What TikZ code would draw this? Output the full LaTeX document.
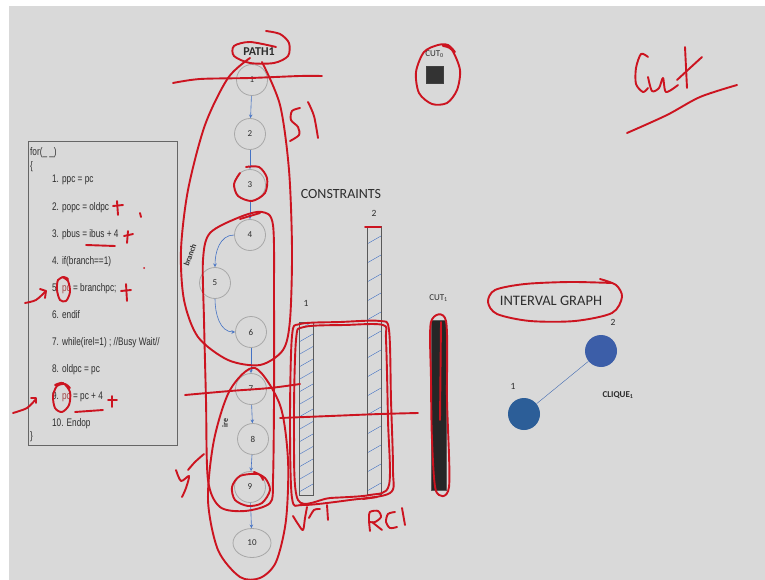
\documentclass[tikz,border=0pt]{standalone}
\usepackage{fontspec}
\setmainfont{Carlito}
\newfontfamily\codefont{Liberation Sans}
\usepackage{tikz}
\usetikzlibrary{shapes.geometric, arrows, positioning}

\definecolor{slide}{RGB}{217,217,217}
\definecolor{inkred}{RGB}{204,20,32}
\definecolor{flow}{RGB}{68,114,196}
\definecolor{ring}{RGB}{168,168,168}
\definecolor{txt}{RGB}{45,45,45}
\definecolor{pcred}{RGB}{160,70,70}
\definecolor{vtxa}{RGB}{44,94,152}
\definecolor{vtxb}{RGB}{60,94,168}

\tikzstyle{pnode} = [ellipse, minimum width=31pt, minimum height=31pt, inner sep=0pt, draw=ring, thick, text=txt, font=\fontsize{9}{10}\selectfont]
\tikzstyle{arrow2} = [flow, semithick, ->, >=stealth]
\tikzstyle{codeline} = [anchor=west, inner sep=0pt, text=txt, font=\codefont\fontsize{11}{12}\selectfont, xscale=0.75, transform shape]
\tikzstyle{barbox} = [rectangle, draw=black!65, thick, fill=slide, minimum width=14pt, inner sep=0pt]
\tikzstyle{vertex} = [circle, minimum size=32pt, inner sep=0pt]
\tikzstyle{title2} = [text=txt, font=\fontsize{14}{16}\selectfont]
\tikzstyle{tag} = [text=txt, font=\fontsize{9.5}{11}\selectfont]
\tikzstyle{scrawl} = [draw=inkred, line width=1.9pt, line cap=round, line join=round]
% diagonal hatching, second value of the list sets the spacing
\tikzset{hatched/.style={path picture={
  \foreach \k in {3,#1,...,300}
    \draw[flow, thin] ([yshift=\k pt]path picture bounding box.south west) -- ++(14pt,8pt);}}}

\begin{document}
\begin{tikzpicture}[x=1pt, y=-1pt]
  \useasboundingbox (0,0) rectangle (765,580);
  \fill[white] (0,0) rectangle (765,580);
  \fill[slide] (9,6) rectangle (765,580);

  % Code listing
  \node (listing) [rectangle, draw=black!60, minimum width=149pt, minimum height=304pt] at (102.5,293.5) {};
  \node (l0) [codeline] at (30,153) {for(\_ \_)};
  \node (lb) [codeline] at (30,167) {\{};
  \node (l1) [codeline] at (52,180) {1. ppc = pc};
  \node (l2) [codeline] at (52,208) {2. popc = oldpc};
  \node (l3) [codeline] at (52,235) {3. pbus = ibus + 4};
  \node (l4) [codeline] at (52,262) {4. if(branch==1)};
  \node (l5) [codeline] at (52,289) {5. \textcolor{pcred}{pc} = branchpc;};
  \node (l6) [codeline] at (52,315) {6. endif};
  \node (l7) [codeline] at (52,343) {7. while(irel=1) ; //Busy Wait//};
  \node (l8) [codeline] at (52,370) {8. oldpc = pc};
  \node (l9) [codeline] at (52,397) {9. \textcolor{pcred}{pc} = pc + 4};
  \node (l10) [codeline] at (52,424) {10. Endop};
  \node (le) [codeline] at (30,437) {\}};

  % Path nodes
  \node (pathlab) [text=txt, font=\bfseries\fontsize{12}{14}\selectfont] at (259,52) {PATH1};
  \node (n1) [pnode] at (252,80) {1};
  \node (n2) [pnode, below of=n1, node distance=54pt, xshift=-2pt] {2};
  \node (n3) [pnode, below of=n2, node distance=51pt] {3};
  \node (n4) [pnode, below of=n3, node distance=50pt] {4};
  \node (n5) [pnode, below of=n4, node distance=48pt, xshift=-35pt] {5};
  \node (n6) [pnode, below of=n4, node distance=97pt, xshift=1pt] {6};
  \node (n7) [pnode, below of=n6, node distance=57pt] {7};
  \node (n8) [pnode, below of=n7, node distance=50pt, xshift=2pt] {8};
  \node (n9) [pnode, below of=n8, node distance=48pt, xshift=-3pt] {9};
  \node (n10) [pnode, below of=n9, node distance=56pt, xshift=2pt, minimum width=38pt, minimum height=29pt] {10};
  \node (br) [rotate=70, text=txt, font=\bfseries\fontsize{8}{9}\selectfont] at (190,255) {branch};
  \node (ire) [rotate=90, text=txt, font=\bfseries\fontsize{8}{9}\selectfont] at (225,423) {ire};

  \draw [arrow2] (n1) -- (n2);
  \draw [arrow2] (n2) -- (n3);
  \draw [arrow2] (n3) -- (n4);
  \draw [arrow2] (n4.west) to[out=180, in=90] (n5.north);
  \draw [arrow2] (n5.south) to[out=-90, in=180] (n6.west);
  \draw [arrow2] (n6) -- (n7);
  \draw [arrow2] (n7) -- (n8);
  \draw [arrow2] (n8) -- (n9);
  \draw [arrow2] (n9) -- (n10);

  % Constraint bars and cuts
  \node (cons) [title2] at (341,194) {CONSTRAINTS};
  \node (bar1) [barbox, hatched=15.5, minimum height=173pt] at (306,408.5) {};
  \node (bar2) [barbox, hatched=22, minimum height=268pt] at (374,360) {};
  \node (cut1) [barbox, fill=black!85, minimum width=15pt, minimum height=170pt] at (438.5,405) {};
  \node (b1lab) [tag, above=12pt of bar1] {1};
  \node (b2lab) [tag, above=6pt of bar2] {2};
  \node (cut1lab) [tag, font=\fontsize{9}{10}\selectfont, above=15pt of cut1] {CUT\textsubscript{1}};
  \node (cut0) [rectangle, draw=black!75, fill=black!80, minimum size=17pt, inner sep=0pt] at (434.5,74.5) {};
  \node (cut0lab) [tag, font=\fontsize{9}{10}\selectfont, above=5pt of cut0] {CUT\textsubscript{0}};

  % Interval graph
  \node (igraph) [title2, font=\fontsize{14.5}{16}\selectfont] at (551,301) {INTERVAL GRAPH};
  \node (g2) [vertex, fill=vtxb] at (601,351) {};
  \node (g1) [vertex, fill=vtxa] at (524,414) {};
  \draw [flow!90!black, thin] (g1) -- (g2);
  \node (g1lab) [tag, above=5pt of g1, xshift=-11pt] {1};
  \node (g2lab) [tag, above=6pt of g2, xshift=12pt] {2};
  \node (clq) [text=txt, font=\bfseries\fontsize{9}{10}\selectfont] at (618,395) {CLIQUE\textsubscript{1}};

  % Pen marks
  \draw [scrawl] plot[smooth] coordinates {(266,31) (280,34) (289,43) (288,56) (274,63) (250,63) (234,56) (234,46) (250,42) (276,47)};
  \draw [scrawl] plot[smooth] coordinates {(173,83) (200,79) (250,78) (300,76) (322,76)};
  \draw [scrawl] plot[smooth] coordinates {(250,58) (228,78) (205,125) (188,190) (181,250) (184,300) (198,337) (228,360) (260,365) (283,350) (290,320) (292,250) (289,170) (280,105) (262,62)};
  \draw [scrawl] plot[smooth cycle] coordinates {(240,217) (262,212) (273,225) (274,300) (274,400) (273,480) (270,503) (245,511) (220,507) (208,480) (206,400) (204,320) (203,260) (210,233)};
  \draw [scrawl] (240,219) -- (260,213);
  \draw [scrawl] plot[smooth cycle] coordinates {(255,368) (230,390) (214,440) (208,500) (218,550) (240,577) (260,578) (276,562) (286,520) (288,460) (280,405)};
  % S1 / S2
  \draw [scrawl] plot[smooth] coordinates {(300,108) (292,111) (291,120) (298,127) (299,135) (290,141)};
  \draw [scrawl] plot[smooth] coordinates {(308,102) (314,116) (318,138)};
  \draw [scrawl] plot[smooth] coordinates {(204,454) (195,462) (188,470)};
  \draw [scrawl] plot[smooth] coordinates {(176,470) (181,481) (189,476) (186,488) (182,497)};
  % rings on nodes 3 and 9
  \draw [scrawl] plot[smooth] coordinates {(246,167) (259,167) (267,178) (265,193) (252,201) (238,196) (234,184) (240,173)};
  \draw [scrawl] plot[smooth] coordinates {(254,472) (265,478) (270,490) (262,503) (248,506) (235,500) (232,487) (240,476) (258,474) (263,480)};
  % cut lines
  \draw [scrawl] plot[smooth] coordinates {(185,395) (230,391) (270,388) (300,384)};
  \draw [scrawl] plot[smooth] coordinates {(280,418) (330,416) (380,414) (418,413)};
  % box round both bars
  \draw [scrawl] plot[smooth cycle] coordinates {(292,336) (300,324) (340,322) (380,321) (389,330) (391,400) (393,470) (390,493) (350,500) (303,505) (292,498) (290,420)};
  \draw [scrawl] plot[smooth cycle] coordinates {(296,340) (304,327) (345,325) (383,325) (386,340) (388,420) (389,485) (370,495) (330,498) (298,500) (294,430)};
  \draw [scrawl] (365,227) -- (381,227);
  \draw [scrawl] (363,499) -- (377,497);
  \draw [scrawl] plot[smooth cycle] coordinates {(431,322) (446,321) (447,400) (449,487) (436,491) (432,440) (431,380)};
  \draw [scrawl] (441,322) -- (440,420);
  % Vc1, RC1
  \draw [scrawl] plot[smooth] coordinates {(293,516) (298,524) (303,530) (305,518) (307,507)};
  \draw [scrawl] plot[smooth] coordinates {(309,518) (314,510) (320,509)};
  \draw [scrawl] (327,505) -- (328,520);
  \draw [scrawl] plot[smooth] coordinates {(370,531) (369,520) (370,512) (378,511) (381,517) (375,522) (369,522)};
  \draw [scrawl] (372,522) -- (382,530);
  \draw [scrawl] plot[smooth] coordinates {(395,512) (388,514) (386,522) (390,528) (397,527)};
  \draw [scrawl] (402,508) -- (405,525);
  % ring on CUT0, Cut, ring on INTERVAL GRAPH
  \draw [scrawl] plot[smooth] coordinates {(455,52) (448,45) (438,45) (424,52) (416,72) (419,93) (432,104) (447,103) (457,90) (460,70) (452,50) (443,46)};
  \draw [scrawl] plot[smooth] coordinates {(648,57) (641,54) (636,68) (636,84) (643,92) (648,88)};
  \draw [scrawl] plot[smooth] coordinates {(648,77) (652,91) (659,88) (663,78) (666,92) (678,85)};
  \draw [scrawl] (685,47) -- (687,88);
  \draw [scrawl] plot[smooth] coordinates {(677,80) (690,68) (702,57)};
  \draw [scrawl] plot[smooth] coordinates {(627,133) (667,115) (700,97) (737,85)};
  \draw [scrawl] plot[smooth] coordinates {(600,279) (616,285) (622,297) (612,313) (575,321) (530,321) (497,314) (488,302) (495,290) (525,284) (570,282) (612,283)};
  % marks in the listing
  \draw [scrawl] (113,206) -- (123,205);
  \draw [scrawl] (117,201) -- (118,215);
  \draw [scrawl] (140,213) -- (141,217);
  \draw [scrawl] (124,236) -- (133,234);
  \draw [scrawl] (128,231) -- (127,243);
  \draw [scrawl] (86,245) -- (115,246);
  \fill [inkred] (144,268) circle (1pt);
  \draw [scrawl] plot[smooth] coordinates {(62,277) (68,281) (70,292) (66,301) (60,300) (57,290) (58,280) (64,277) (68,279)};
  \draw [scrawl] (121,291) -- (131,290);
  \draw [scrawl] (126,284) -- (127,301);
  \draw [scrawl] plot[smooth] coordinates {(25,303) (36,300) (46,291)};
  \draw [scrawl] (40,289) -- (46,291) -- (45,298);
  \draw [scrawl] plot[smooth] coordinates {(55,385) (63,383) (70,392) (69,405) (62,412) (55,408) (53,396) (57,386) (65,384) (70,388)};
  \draw [scrawl] plot[smooth] coordinates {(13,413) (27,408) (36,399)};
  \draw [scrawl] (31,398) -- (36,398) -- (36,403);
  \draw [scrawl] (75,412) -- (103,410);
  \draw [scrawl] (108,400) -- (117,400);
  \draw [scrawl] (112,396) -- (112,407);
\end{tikzpicture}
\end{document}
